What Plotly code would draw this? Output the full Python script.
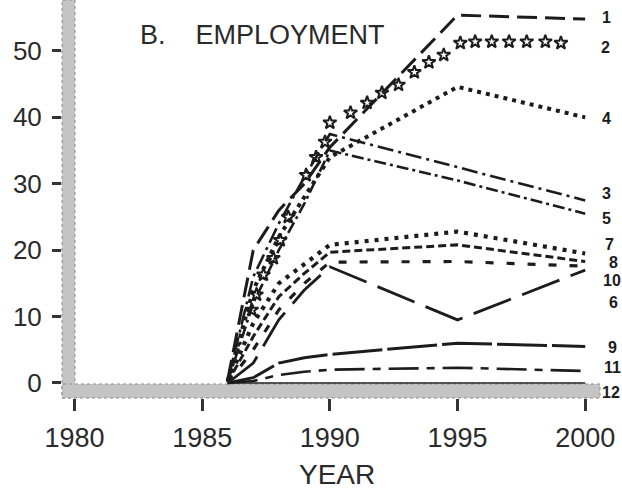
import plotly.graph_objects as go

# ---------------- data ----------------
years = [1986, 1987, 1988, 1989, 1990, 1995, 2000]

s1 = [0.5, 20.0, 26.0, 30.0, 35.5, 55.4, 54.8]
s3 = [0.3, 16.0, 24.0, 31.0, 37.5, 32.5, 27.5]
s4 = [0.3, 14.0, 22.0, 28.0, 34.0, 44.6, 40.0]
s5 = [0.2, 12.0, 20.0, 27.0, 35.0, 30.5, 25.5]
s6 = [0.0, 3.0, 9.5, 14.0, 17.5, 9.5, 17.0]
s7 = [0.2, 9.0, 15.0, 18.0, 20.8, 22.8, 19.5]
s8 = [0.1, 7.0, 13.0, 16.5, 19.7, 20.8, 18.3]
s9 = [0.0, 0.8, 3.0, 3.8, 4.3, 6.0, 5.5]
s10 = [0.0, 5.0, 11.0, 15.0, 18.2, 18.3, 17.6]
s11 = [0.0, 0.3, 1.2, 1.7, 2.0, 2.3, 1.8]
s12 = [0.0, 0.0, 0.0, 0.0, 0.0, 0.0, 0.0]

# series 2 is drawn as a chain of star symbols
star_years = [1986.94, 1987.13, 1987.40, 1987.79, 1988.06, 1988.37, 1989.07,
              1989.46, 1989.81, 1990.00, 1990.81, 1991.46, 1992.04, 1992.69,
              1993.31, 1993.88, 1994.46, 1995.11, 1995.69, 1996.34, 1997.02,
              1997.71, 1998.44, 1999.05]
star_values = [11.0, 13.3, 16.3, 18.8, 21.5, 25.0, 31.3, 34.0, 36.3, 39.2,
               40.7, 42.2, 43.7, 44.9, 46.8, 48.3, 49.4, 51.2, 51.4, 51.4,
               51.4, 51.4, 51.4, 51.2]

series_names = ["1", "3", "4", "5", "6", "7", "8", "9", "10", "11", "12"]
series_values = [s1, s3, s4, s5, s6, s7, s8, s9, s10, s11, s12]

label_texts = ["1", "2", "4", "3", "5", "7", "8", "10", "6", "9", "11", "12"]
label_y = [55.1, 50.5, 39.9, 28.6, 24.8, 20.8, 18.1, 15.5, 12.5, 5.3, 2.4, -1.4]

x_ticks = [1980, 1985, 1990, 1995, 2000]
y_ticks = [0, 10, 20, 30, 40, 50]

# ---------------- styles ----------------
INK = "#1c1c1c"
FONT = "Liberation Sans, Arial, sans-serif"
styles = {
    "1": dict(dash="20px,8px", width=3),
    "3": dict(dash="16px,5px,3px,5px", width=2.6),
    "4": dict(dash="4px,5px", width=4),
    "5": dict(dash="12px,4px,3px,4px", width=2.6),
    "6": dict(dash="40px,12px", width=2.8),
    "7": dict(dash="4px,6px", width=4.2),
    "8": dict(dash="8px,4px", width=3),
    "9": dict(dash="50px,5px", width=3),
    "10": dict(dash="8px,13px", width=3.2),
    "11": dict(dash="30px,8px,8px,8px", width=2.6),
    "12": dict(dash="solid", width=1.5),
}
label_dx = [21, 20, 21, 21, 21, 24, 28, 27, 28, 27, 27, 26]

fig = go.Figure()

for name, vals in zip(series_names, series_values):
    st = styles[name]
    fig.add_trace(go.Scatter(
        x=years, y=vals, mode="lines", name=name,
        line=dict(color=INK, width=st["width"], dash=st["dash"]),
        showlegend=False, hoverinfo="skip", cliponaxis=False))

fig.add_trace(go.Scatter(
    x=star_years, y=star_values, mode="markers", name="2",
    marker=dict(symbol="star-open", size=10, color=INK, line=dict(width=2, color=INK)),
    showlegend=False, hoverinfo="skip"))

# stippled axis bands
band_fill = "#c4c4c4"
fig.add_shape(type="rect", xref="paper", yref="paper", x0=0, x1=13 / 538, y0=0, y1=1,
              fillcolor=band_fill, line=dict(color="#8a8a8a", width=1, dash="dot"), layer="below")
fig.add_shape(type="rect", xref="paper", yref="paper", x0=0, x1=1, y0=0, y1=14 / 398,
              fillcolor=band_fill, line=dict(color="#8a8a8a", width=1, dash="dot"), layer="below")

annotations = []
for txt, ly, dx in zip(label_texts, label_y, label_dx):
    if txt == "6":
        annotations.append(dict(
            x=2000, y=17.0, xref="x", yref="y", text="<b>6</b>", showarrow=True,
            ax=dx, ay=32, arrowhead=0, arrowwidth=2.4, arrowcolor=INK, standoff=0,
            font=dict(family=FONT, size=16, color=INK)))
    else:
        annotations.append(dict(
            x=2000, y=ly, xref="x", yref="y", text="<b>" + txt + "</b>", showarrow=False,
            xshift=dx, xanchor="center", yanchor="middle",
            font=dict(family=FONT, size=16, color=INK)))

annotations.append(dict(
    x=(138 - 62) / 538, y=(398 - 35) / 398, xref="paper", yref="paper",
    text="B.&nbsp;&nbsp;&nbsp;&nbsp;EMPLOYMENT", showarrow=False,
    xanchor="left", yanchor="middle", font=dict(family=FONT, size=27, color="#2a2a2a")))
annotations.append(dict(
    x=(337 - 62) / 538, y=(398 - 474) / 398, xref="paper", yref="paper",
    text="YEAR", showarrow=False, xanchor="center", yanchor="middle",
    font=dict(family=FONT, size=28, color="#2a2a2a")))

fig.update_layout(
    width=622, height=493,
    margin=dict(l=62, r=22, t=0, b=95, autoexpand=False),
    paper_bgcolor="white", plot_bgcolor="white",
    annotations=annotations,
    xaxis=dict(range=[1979.51, 2000.58], tickvals=x_ticks, ticktext=[str(v) for v in x_ticks],
               showgrid=False, zeroline=False, showline=False, automargin=False,
               ticks="outside", ticklen=12, tickwidth=2.5, tickcolor="#333",
               tickfont=dict(family=FONT, size=27, color="#2a2a2a"), ticklabelstandoff=4),
    yaxis=dict(range=[-2.26, 57.68], tickvals=y_ticks, ticktext=[str(v) for v in y_ticks],
               showgrid=False, zeroline=False, showline=False, automargin=False,
               ticks="outside", ticklen=9, tickwidth=2.5, tickcolor="#333",
               tickfont=dict(family=FONT, size=26, color="#2a2a2a"), ticklabelstandoff=5),
)

fig.write_html("out.html", config={"displayModeBar": False},
               post_script="document.body.style.margin='0';document.body.style.overflow='hidden';")
